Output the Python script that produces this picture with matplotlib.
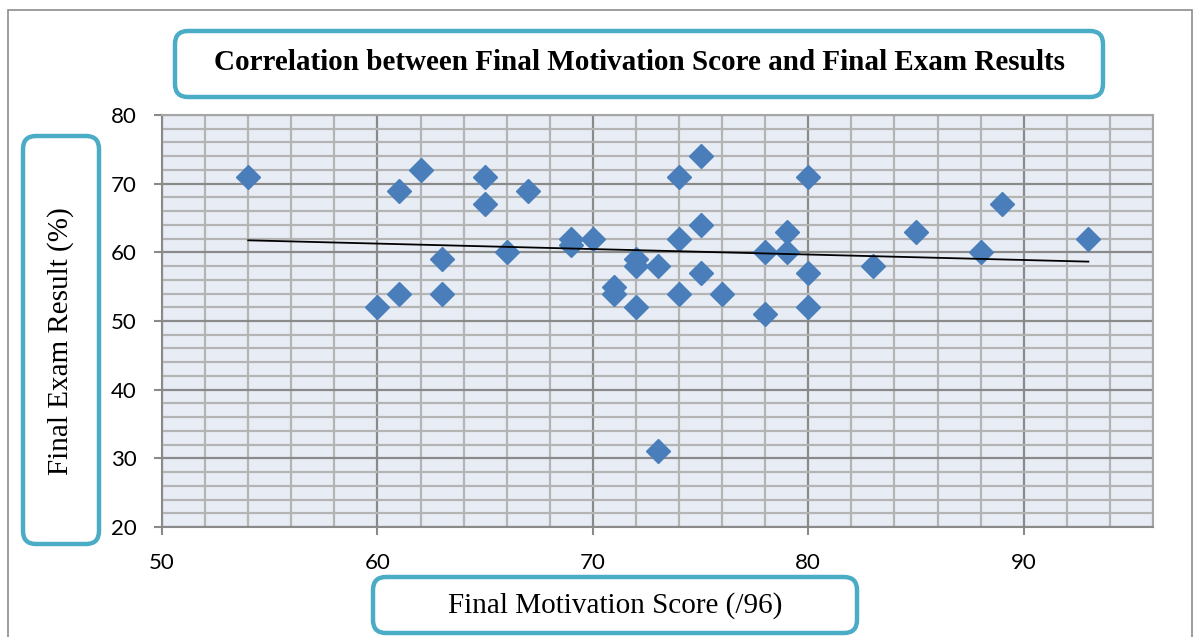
import numpy as np
import matplotlib.pyplot as plt
from matplotlib.patches import FancyBboxPatch, Rectangle
from matplotlib.ticker import MultipleLocator

# data
motivation = [54, 60, 61, 61, 62, 63, 63, 65, 65, 66, 67, 69, 69, 70, 71, 71,
              72, 72, 72, 73, 73, 74, 74, 74, 75, 75, 75, 76, 78, 78, 79, 79,
              80, 80, 80, 83, 85, 88, 89, 93]
exam = [71, 52, 54, 69, 72, 59, 54, 71, 67, 60, 69, 62, 61, 62, 55, 54,
        59, 58, 52, 58, 31, 71, 62, 54, 74, 64, 57, 54, 60, 51, 63, 60,
        71, 57, 52, 58, 63, 60, 67, 62]
x_ticks = [50, 60, 70, 80, 90]
y_ticks = [20, 30, 40, 50, 60, 70, 80]

title = 'Correlation between Final Motivation Score and Final Exam Results'
xlabel = 'Final Motivation Score (/96)'
ylabel = 'Final Exam Result (%)'

W, H = 1200, 637
fig = plt.figure(figsize=(W / 100, H / 100), dpi=100)
ax = fig.add_axes([162 / W, 1 - 527 / H, (1153 - 162) / W, (527 - 115) / H])

ax.set_facecolor('#e8edf5')
ax.set_xlim(50, 96)
ax.set_ylim(20, 80)
ax.set_xticks(x_ticks)
ax.set_yticks(y_ticks)
ax.xaxis.set_minor_locator(MultipleLocator(2))
ax.yaxis.set_minor_locator(MultipleLocator(2))
ax.grid(which='minor', color='#b4b4b4', lw=1.6, zorder=0)
ax.grid(which='major', color='#8a8a8a', lw=1.6, zorder=0)
ax.set_axisbelow(True)
ax.tick_params(which='minor', length=0)
ax.tick_params(which='major', length=6, width=1.5, color='#8a8a8a',
               labelsize=16)
ax.tick_params(axis='x', pad=13)
ax.tick_params(axis='y', pad=12)
for lab in ax.get_xticklabels() + ax.get_yticklabels():
    lab.set_family(['Lato', 'DejaVu Sans'])
for s in ax.spines.values():
    s.set_color('#a6a6a6')
    s.set_linewidth(1.5)
ax.spines['left'].set_color('#8a8a8a')
ax.spines['bottom'].set_color('#8a8a8a')

ax.plot(motivation, exam, 'D', color='#4a7ebb', ms=12.5, mec='#4a7ebb', zorder=3)

# linear trendline
m, b = np.polyfit(motivation, exam, 1)
xs = np.array([min(motivation), max(motivation)])
ax.plot(xs, m * xs + b, color='black', lw=1.3, zorder=4)

# boxes in pixel space
def box(x0, y0, x1, y1):
    p = FancyBboxPatch((x0 / 100, (H - y1) / 100), (x1 - x0) / 100, (y1 - y0) / 100,
                       boxstyle='round,pad=0,rounding_size=0.13',
                       transform=fig.dpi_scale_trans, fc='white', ec='#4bacc6',
                       lw=3.2, clip_on=False)
    fig.add_artist(p)

fig.add_artist(Rectangle((8 / 100, -1 / 100), (1192 - 8) / 100, (H - 10 + 1) / 100,
                         transform=fig.dpi_scale_trans, fill=False,
                         ec='#8c8c8c', lw=1.2))

box(175, 31, 1103, 97)
fig.text(639 / W, 1 - 63 / H, title, ha='center', va='center', fontsize=21,
         fontweight='bold', family='Liberation Serif')

box(23, 136, 99, 544)
fig.text(61 / W, 1 - 341 / H, ylabel, ha='center', va='center', fontsize=21,
         rotation=90, family='Liberation Serif')

box(373, 577, 857, 633)
fig.text(615 / W, 1 - 606 / H, xlabel, ha='center', va='center', fontsize=21,
         family='Liberation Serif')

fig.savefig('out.png', dpi=100)
